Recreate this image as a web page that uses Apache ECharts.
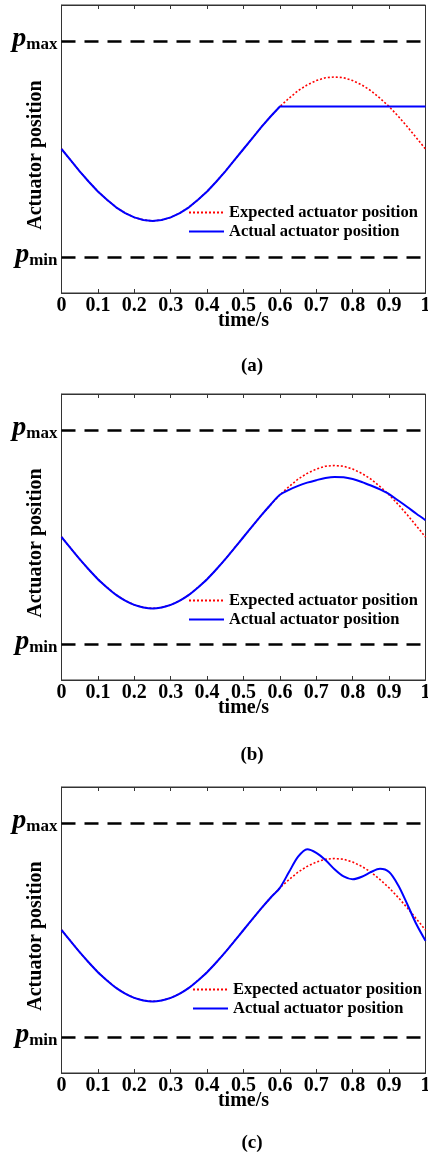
<!DOCTYPE html>
<html><head><meta charset="utf-8">
<script src="https://cdn.jsdelivr.net/npm/echarts@6/dist/echarts.min.js"></script>
<style>html,body{margin:0;padding:0;background:#fff}#c{width:428px;height:1156px}</style>
</head><body><div id="c"></div>
<script>
const timeS = [0,0.025,0.05,0.075,0.1,0.125,0.15,0.175,0.2,0.225,0.25,0.275,0.3,0.325,0.35,0.375,0.4,0.425,0.45,0.475,0.5,0.525,0.55,0.575,0.6,0.625,0.65,0.675,0.7,0.725,0.75,0.775,0.8,0.825,0.85,0.875,0.9,0.925,0.95,0.975,1];
const expected = [4.00,3.69,3.38,3.09,2.82,2.59,2.38,2.22,2.10,2.03,2.00,2.03,2.10,2.22,2.38,2.59,2.82,3.09,3.38,3.69,4.00,4.31,4.62,4.91,5.18,5.41,5.62,5.78,5.90,5.98,6.00,5.98,5.90,5.78,5.62,5.41,5.18,4.91,4.62,4.31,4.00];
const actualA = [4.00,3.69,3.38,3.09,2.82,2.59,2.38,2.22,2.10,2.03,2.00,2.03,2.10,2.22,2.38,2.59,2.82,3.09,3.38,3.69,4.00,4.31,4.62,4.91,5.18,5.18,5.18,5.18,5.18,5.18,5.18,5.18,5.18,5.18,5.18,5.18,5.18,5.18,5.18,5.18,5.18];
const actualB = [4.00,3.69,3.38,3.09,2.82,2.59,2.38,2.22,2.10,2.03,2.00,2.03,2.10,2.22,2.38,2.59,2.82,3.09,3.38,3.69,4.00,4.31,4.62,4.91,5.18,5.32,5.43,5.52,5.59,5.65,5.68,5.67,5.62,5.54,5.44,5.33,5.20,5.02,4.84,4.65,4.47];
const actualC = [4.00,3.69,3.38,3.09,2.82,2.59,2.38,2.22,2.10,2.03,2.00,2.03,2.10,2.22,2.38,2.59,2.82,3.09,3.38,3.69,4.00,4.31,4.62,4.91,5.18,5.62,6.05,6.26,6.16,5.96,5.70,5.50,5.42,5.49,5.62,5.71,5.62,5.25,4.72,4.16,3.70];
const pMax = 7, pMin = 1;
const yMin = 0, yMax = 8;
const xMin = 0, xMax = 1, xStep = 0.1;
const seriesNames = ['Expected actuator position', 'Actual actuator position'];
const panelLabels = ['(a)', '(b)', '(c)'];
const xName = 'time/s', yName = 'Actuator position';
const actuals = [actualA, actualB, actualC];

const FF = '"Liberation Serif", "Times New Roman", serif';
const gridTops = [5, 394, 787];
const gridHeights = [288, 286, 286];
const legendTops = [204, 592, 981];
const legendLefts = [188, 188, 192];
const captionYs = [366, 755, 1143];

const grid = [], xAxis = [], yAxis = [], series = [], legend = [], graphic = [];
for (let i = 0; i < 3; i++) {
  grid.push({left: 61.5, top: gridTops[i], width: 364, height: gridHeights[i], show: true,
    borderColor: '#333', borderWidth: 1, backgroundColor: 'transparent', containLabel: false, outerBoundsMode: 'none'});
  xAxis.push({type: 'value', gridIndex: i, min: xMin, max: xMax, interval: xStep, position: 'bottom',
    axisLine: {show: true, lineStyle: {color: '#333', width: 1}},
    axisTick: {show: true, inside: true, length: 4, lineStyle: {color: '#333'}},
    splitLine: {show: false},
    axisLabel: {show: true, margin: 3, color: '#000', fontSize: 20, fontWeight: 'bold', fontFamily: FF},
    name: xName, nameLocation: 'middle', nameGap: 18, nameMoveOverlap: false,
    nameTextStyle: {color: '#000', fontSize: 20, fontWeight: 'bold', fontFamily: FF}});
  xAxis.push({type: 'value', gridIndex: i, min: xMin, max: xMax, interval: xStep, position: 'top',
    axisLine: {show: true, lineStyle: {color: '#333', width: 1}},
    axisTick: {show: true, inside: true, length: 4, lineStyle: {color: '#333'}},
    splitLine: {show: false}, axisLabel: {show: false}});
  yAxis.push({type: 'value', gridIndex: i, min: yMin, max: yMax, interval: 1,
    axisLine: {show: true, lineStyle: {color: '#333', width: 1}},
    axisTick: {show: false}, splitLine: {show: false},
    axisLabel: {show: true, margin: 4, color: '#000',
      formatter: v => v === pMax ? '{p|p}{s|max}' : (v === pMin ? '{p|p}{s|min}' : ''),
      rich: {
        p: {fontSize: 28, fontStyle: 'italic', fontWeight: 'bold', fontFamily: FF, color: '#000', verticalAlign: 'bottom', lineHeight: 24},
        s: {fontSize: 17, fontWeight: 'bold', fontFamily: FF, color: '#000', verticalAlign: 'bottom', lineHeight: 18}
      }},
    name: yName, nameLocation: 'middle', nameGap: 16, nameMoveOverlap: false,
    nameTextStyle: {color: '#000', fontSize: 20, fontWeight: 'bold', fontFamily: FF, padding: [0, 12, 0, 0]}});
  series.push({name: seriesNames[0], type: 'line', xAxisIndex: 2 * i, yAxisIndex: i,
    data: timeS.map((t, k) => [t, expected[k]]), showSymbol: false, symbol: 'none', smooth: false,
    lineStyle: {color: '#ff0000', width: 1.6, type: [2, 2]}, itemStyle: {color: '#ff0000'},
    animation: false, z: 2,
    markLine: {silent: true, symbol: ['none', 'none'], label: {show: false}, animation: false,
      lineStyle: {color: '#000', width: 2.5, type: [14, 9]},
      data: [{yAxis: pMax}, {yAxis: pMin}]}});
  series.push({name: seriesNames[1], type: 'line', xAxisIndex: 2 * i, yAxisIndex: i,
    data: timeS.map((t, k) => [t, actuals[i][k]]), showSymbol: false, symbol: 'none', smooth: i === 0 ? false : 0.3,
    lineStyle: {color: '#0000ff', width: 2}, itemStyle: {color: '#0000ff'}, animation: false, z: 3});
  legend.push({data: seriesNames, orient: 'vertical', left: legendLefts[i], top: legendTops[i],
    itemWidth: 35, itemHeight: 14, itemGap: 2, padding: 0, selectedMode: false,
    itemStyle: {opacity: 0, borderWidth: 0},
    textStyle: {fontSize: 16.5, fontWeight: 'bold', fontFamily: FF, color: '#000', lineHeight: 14}});
  graphic.push({type: 'text', x: 252, y: captionYs[i], silent: true,
    style: {text: panelLabels[i], fill: '#000', font: 'bold 19px ' + FF, textAlign: 'center', textVerticalAlign: 'middle'}});
}

const chart = echarts.init(document.getElementById('c'), null, {renderer: 'canvas'});
chart.setOption({animation: false, backgroundColor: '#fff', grid, xAxis, yAxis, series, legend, graphic});
</script></body></html>
